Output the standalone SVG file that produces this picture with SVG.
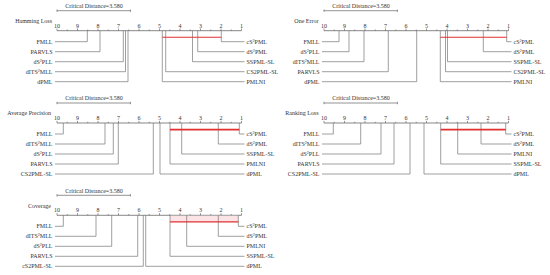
<svg xmlns="http://www.w3.org/2000/svg" width="550" height="275" viewBox="0 0 550 275">
<style>
text{font-family:"Liberation Serif","DejaVu Serif",serif;font-size:6px;fill:#333}
.l{text-anchor:end}
.m{text-anchor:middle}
.sup{font-size:4.2px}
.ax{stroke:#555;stroke-width:0.7;fill:none}
.tk{stroke:#555;stroke-width:0.6}
.cn{stroke:#777;stroke-width:0.7;fill:none}
.red{stroke:#e23030;stroke-width:1.1}
.redt{stroke:#e23030;stroke-width:1.8}
.cd{stroke:#666;stroke-width:0.7;fill:none}
</style>
<defs>
<g id="axis">
<path class="ax" d="M57,30.7H241.5"/>
<path class="tk" d="M57,30.7v-2.2M77.5,30.7v-2.2M98,30.7v-2.2M118.5,30.7v-2.2M139,30.7v-2.2M159.5,30.7v-2.2M180,30.7v-2.2M200.5,30.7v-2.2M221,30.7v-2.2M241.5,30.7v-2.2M67.25,30.7v-1.2M87.75,30.7v-1.2M108.25,30.7v-1.2M128.75,30.7v-1.2M149.25,30.7v-1.2M169.75,30.7v-1.2M190.25,30.7v-1.2M210.75,30.7v-1.2M231.25,30.7v-1.2"/>
<text class="m" x="57" y="27.5">10</text><text class="m" x="77.5" y="27.5">9</text><text class="m" x="98" y="27.5">8</text><text class="m" x="118.5" y="27.5">7</text><text class="m" x="139" y="27.5">6</text><text class="m" x="159.5" y="27.5">5</text><text class="m" x="180" y="27.5">4</text><text class="m" x="200.5" y="27.5">3</text><text class="m" x="221" y="27.5">2</text><text class="m" x="241.5" y="27.5">1</text>
<path class="cd" d="M57,10.7H130.4M57,9.5v2.4M130.4,9.5v2.4"/>
<text class="m" x="94" y="8">Critical Distance=3.580</text>
</g>
</defs>

<!-- Panel 1: Hamming Loss -->
<g id="panel-hamming">
<use href="#axis"/>
<text class="l" x="52" y="23">Hamming Loss</text>
<g id="hl-connectors">
<path class="cn" d="M87.3,30.7V41.7H55M100,30.7V51.7H55M123.3,30.7V61.7H55M125.5,30.7V71.7H55M128,30.7V81.7H55"/>
<path class="cn" d="M221.3,30.7V41.7H244.5M197.7,30.7V51.7H244.5M192.5,30.7V61.7H244.5M165.7,30.7V71.7H244.5M162.3,30.7V81.7H244.5"/>
<path class="red" d="M162.3,37.3H221.3"/>
</g>
<g id="hl-fmll"><text class="l" x="52.5" y="43.8">FMLL</text></g>
<g id="hl-parvls"><text class="l" x="52.5" y="53.8">PARVLS</text></g>
<g id="hl-ds2pll"><text class="l" x="52.5" y="63.8">dS<tspan class="sup" dy="-2">2</tspan><tspan dy="2">PLL</tspan></text></g>
<g id="hl-dits2mll"><text class="l" x="52.5" y="73.8">dITS<tspan class="sup" dy="-2">2</tspan><tspan dy="2">MLL</tspan></text></g>
<g id="hl-dpml"><text class="l" x="52.5" y="83.8">dPML</text></g>
<g id="hl-cs2pml"><text x="246.5" y="43.8">cS<tspan class="sup" dy="-2">2</tspan><tspan dy="2">PML</tspan></text></g>
<g id="hl-ds2pml"><text x="246.5" y="53.8">dS<tspan class="sup" dy="-2">2</tspan><tspan dy="2">PML</tspan></text></g>
<g id="hl-sspmlsl"><text x="246.5" y="63.8">SSPML-SL</text></g>
<g id="hl-cs2pmlsl"><text x="246.5" y="73.8">CS2PML-SL</text></g>
<g id="hl-pmlni"><text x="246.5" y="83.8">PMLNI</text></g>
</g>

<!-- Panel 2: One Error -->
<g id="panel-oneerror" transform="translate(267,0)">
<use href="#axis"/>
<text class="l" x="51.5" y="23">One Error</text>
<g id="oe-connectors">
<path class="cn" d="M72,30.7V41.7H55M82,30.7V51.7H55M97,30.7V61.7H55M121.3,30.7V71.7H55M149.7,30.7V81.7H55"/>
<path class="cn" d="M239.7,30.7V41.7H244.5M216.3,30.7V51.7H244.5M180.5,30.7V61.7H244.5M178.5,30.7V71.7H244.5M173.3,30.7V81.7H244.5"/>
<path class="red" d="M173.3,37.3H239.7"/>
</g>
<g id="oe-fmll"><text class="l" x="52.5" y="43.8">FMLL</text></g>
<g id="oe-ds2pll"><text class="l" x="52.5" y="53.8">dS<tspan class="sup" dy="-2">2</tspan><tspan dy="2">PLL</tspan></text></g>
<g id="oe-dits2mll"><text class="l" x="52.5" y="63.8">dITS<tspan class="sup" dy="-2">2</tspan><tspan dy="2">MLL</tspan></text></g>
<g id="oe-parvls"><text class="l" x="52.5" y="73.8">PARVLS</text></g>
<g id="oe-dpml"><text class="l" x="52.5" y="83.8">dPML</text></g>
<g id="oe-cs2pml"><text x="246.5" y="43.8">cS<tspan class="sup" dy="-2">2</tspan><tspan dy="2">PML</tspan></text></g>
<g id="oe-ds2pml"><text x="246.5" y="53.8">dS<tspan class="sup" dy="-2">2</tspan><tspan dy="2">PML</tspan></text></g>
<g id="oe-sspmlsl"><text x="246.5" y="63.8">SSPML-SL</text></g>
<g id="oe-cs2pmlsl"><text x="246.5" y="73.8">CS2PML-SL</text></g>
<g id="oe-pmlni"><text x="246.5" y="83.8">PMLNI</text></g>
</g>

<!-- Panel 3: Average Precision -->
<g id="panel-avgprec" transform="translate(0,92.3)">
<use href="#axis"/>
<text class="l" x="51" y="23">Average Precision</text>
<g id="ap-connectors">
<path class="cn" d="M63.3,30.7V41.7H55M105,30.7V51.7H55M113.3,30.7V61.7H55M118.3,30.7V71.7H55M153.3,30.7V81.7H55"/>
<path class="cn" d="M239.3,30.7V41.7H244.5M218.3,30.7V51.7H244.5M181.7,30.7V61.7H244.5M170,30.7V71.7H244.5M160,30.7V81.7H244.5"/>
<path class="redt" d="M170,37.3H239.3"/>
</g>
<g id="ap-fmll"><text class="l" x="52.5" y="43.8">FMLL</text></g>
<g id="ap-dits2mll"><text class="l" x="52.5" y="53.8">dITS<tspan class="sup" dy="-2">2</tspan><tspan dy="2">MLL</tspan></text></g>
<g id="ap-ds2pll"><text class="l" x="52.5" y="63.8">dS<tspan class="sup" dy="-2">2</tspan><tspan dy="2">PLL</tspan></text></g>
<g id="ap-parvls"><text class="l" x="52.5" y="73.8">PARVLS</text></g>
<g id="ap-cs2pmlsl"><text class="l" x="52.5" y="83.8">CS2PML-SL</text></g>
<g id="ap-cs2pml"><text x="246.5" y="43.8">cS<tspan class="sup" dy="-2">2</tspan><tspan dy="2">PML</tspan></text></g>
<g id="ap-ds2pml"><text x="246.5" y="53.8">dS<tspan class="sup" dy="-2">2</tspan><tspan dy="2">PML</tspan></text></g>
<g id="ap-sspmlsl"><text x="246.5" y="63.8">SSPML-SL</text></g>
<g id="ap-pmlni"><text x="246.5" y="73.8">PMLNI</text></g>
<g id="ap-dpml"><text x="246.5" y="83.8">dPML</text></g>
</g>

<!-- Panel 4: Ranking Loss -->
<g id="panel-rankloss" transform="translate(267,92.3)">
<use href="#axis"/>
<text class="l" x="51.5" y="23">Ranking Loss</text>
<g id="rl-connectors">
<path class="cn" d="M66.3,30.7V41.7H55M93.7,30.7V51.7H55M114,30.7V61.7H55M127,30.7V71.7H55M143,30.7V81.7H55"/>
<path class="cn" d="M238.7,30.7V41.7H244.5M214,30.7V51.7H244.5M190.7,30.7V61.7H244.5M173.7,30.7V71.7H244.5M157,30.7V81.7H244.5"/>
<path class="redt" d="M173.7,37.3H238.7"/>
</g>
<g id="rl-fmll"><text class="l" x="52.5" y="43.8">FMLL</text></g>
<g id="rl-dits2mll"><text class="l" x="52.5" y="53.8">dITS<tspan class="sup" dy="-2">2</tspan><tspan dy="2">MLL</tspan></text></g>
<g id="rl-ds2pll"><text class="l" x="52.5" y="63.8">dS<tspan class="sup" dy="-2">2</tspan><tspan dy="2">PLL</tspan></text></g>
<g id="rl-parvls"><text class="l" x="52.5" y="73.8">PARVLS</text></g>
<g id="rl-cs2pmlsl"><text class="l" x="52.5" y="83.8">CS2PML-SL</text></g>
<g id="rl-cs2pml"><text x="246.5" y="43.8">cS<tspan class="sup" dy="-2">2</tspan><tspan dy="2">PML</tspan></text></g>
<g id="rl-ds2pml"><text x="246.5" y="53.8">dS<tspan class="sup" dy="-2">2</tspan><tspan dy="2">PML</tspan></text></g>
<g id="rl-pmlni"><text x="246.5" y="63.8">PMLNI</text></g>
<g id="rl-sspmlsl"><text x="246.5" y="73.8">SSPML-SL</text></g>
<g id="rl-dpml"><text x="246.5" y="83.8">dPML</text></g>
</g>

<!-- Panel 5: Coverage -->
<g id="panel-coverage" transform="translate(0,184.6)">
<use href="#axis"/>
<text class="l" x="51" y="23">Coverage</text>
<g id="cv-connectors">
<rect x="170" y="31.2" width="68.3" height="6.1" fill="#fbe3e6"/>
<path class="cn" d="M63.3,30.7V41.7H55M96,30.7V51.7H55M111.7,30.7V61.7H55M137.7,30.7V71.7H55M143.3,30.7V81.7H55"/>
<path class="cn" d="M238.3,30.7V41.7H244.5M218.3,30.7V51.7H244.5M186.7,30.7V61.7H244.5M170,30.7V71.7H244.5M145.7,30.7V81.7H244.5"/>
<path class="red" d="M170,37.3H238.3"/>
</g>
<g id="cv-fmll"><text class="l" x="52.5" y="43.8">FMLL</text></g>
<g id="cv-dits2mll"><text class="l" x="52.5" y="53.8">dITS<tspan class="sup" dy="-2">2</tspan><tspan dy="2">MLL</tspan></text></g>
<g id="cv-ds2pll"><text class="l" x="52.5" y="63.8">dS<tspan class="sup" dy="-2">2</tspan><tspan dy="2">PLL</tspan></text></g>
<g id="cv-parvls"><text class="l" x="52.5" y="73.8">PARVLS</text></g>
<g id="cv-cs2pmlsl"><text class="l" x="52.5" y="83.8">cS2PML-SL</text></g>
<g id="cv-cs2pml"><text x="246.5" y="43.8">cS<tspan class="sup" dy="-2">2</tspan><tspan dy="2">PML</tspan></text></g>
<g id="cv-ds2pml"><text x="246.5" y="53.8">dS<tspan class="sup" dy="-2">2</tspan><tspan dy="2">PML</tspan></text></g>
<g id="cv-pmlni"><text x="246.5" y="63.8">PMLNI</text></g>
<g id="cv-sspmlsl"><text x="246.5" y="73.8">SSPML-SL</text></g>
<g id="cv-dpml"><text x="246.5" y="83.8">dPML</text></g>
</g>
</svg>
